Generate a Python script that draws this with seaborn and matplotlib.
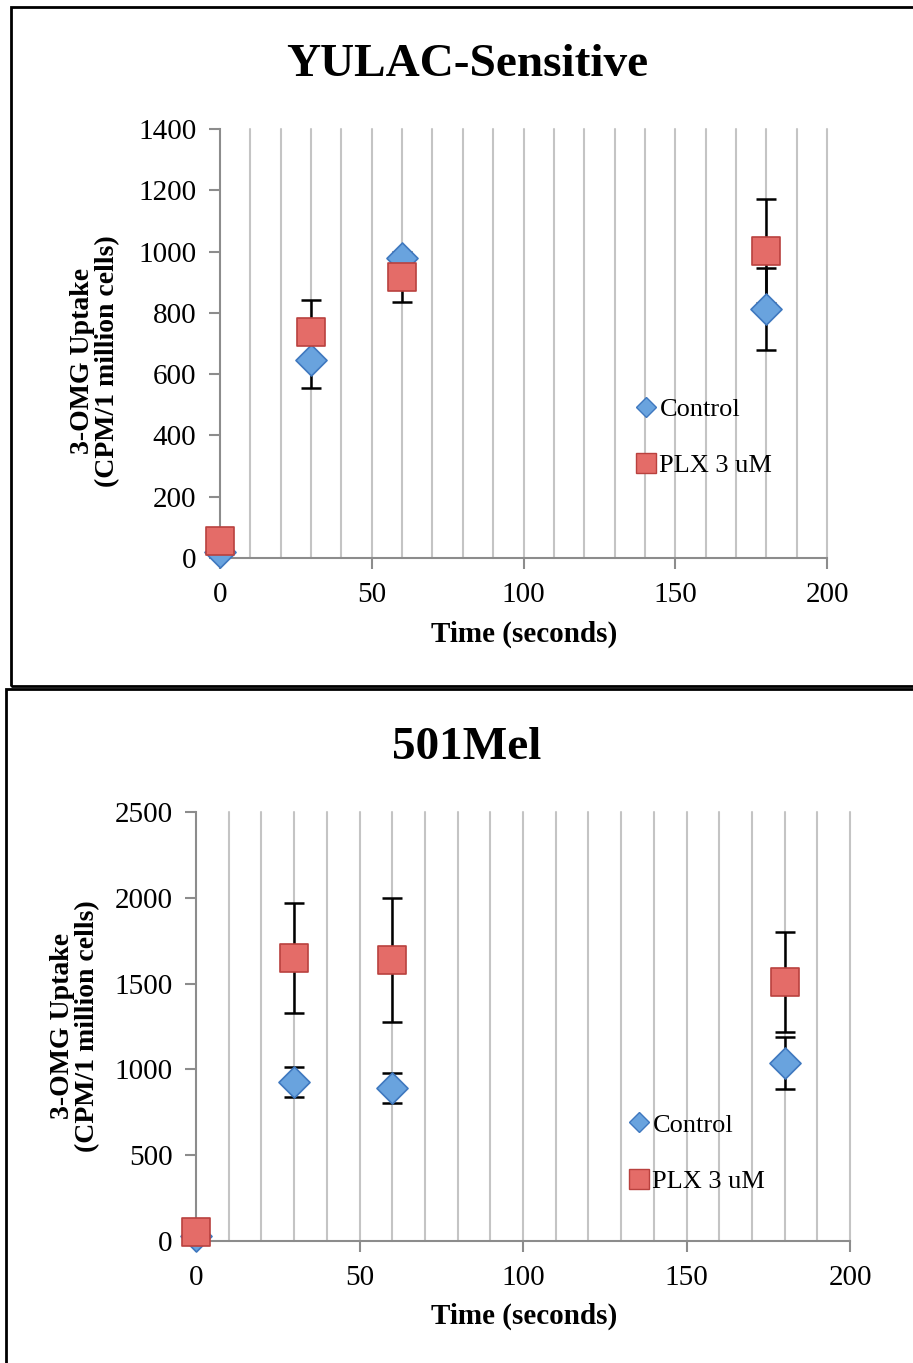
import numpy as np
import pandas as pd
import matplotlib
matplotlib.use("Agg")
import matplotlib.pyplot as plt
from matplotlib.patches import Rectangle
from matplotlib.lines import Line2D
import seaborn as sns

# ---- data ----
time_s = [0, 30, 60, 180]
series_names = ["Control", "PLX 3 uM"]

yulac_control = [20, 646, 979, 813]
yulac_control_err = [0, 90, 0, 135]
yulac_plx = [55, 737, 917, 1002]
yulac_plx_err = [0, 105, 82, 170]

mel_control = [30, 927, 892, 1038]
mel_control_err = [0, 85, 85, 150]
mel_plx = [52, 1650, 1638, 1510]
mel_plx_err = [0, 320, 360, 290]

titles = ["YULAC-Sensitive", "501Mel"]
ylims = [1400, 2500]
ytick_steps = [200, 500]
xticks = [0, 50, 100, 150, 200]

sns.set_style("white")
plt.rcParams['font.family'] = ['Liberation Serif', 'DejaVu Serif']
plt.rcParams['text.color'] = 'black'
plt.rcParams['xtick.labelcolor'] = 'black'
plt.rcParams['ytick.labelcolor'] = 'black'

W, H = 913, 1363
fig = plt.figure(figsize=(W / 100, H / 100), dpi=100)

def fx(px):
    return px / W

def fy(py):
    return 1 - py / H

# panel borders
fig.patches.append(Rectangle((fx(11), fy(686)), fx(920 - 11), fy(7) - fy(686),
                             transform=fig.transFigure, fill=False, lw=2, ec='black'))
fig.patches.append(Rectangle((fx(6), fy(1370)), fx(920 - 6), fy(689) - fy(1370),
                             transform=fig.transFigure, fill=False, lw=2, ec='black'))

blue_face, blue_edge = '#69a3de', '#3f78bf'
red_face, red_edge = '#e46c68', '#b9413e'

panels = [
    dict(box=(220, 827, 129, 558), title_y=65, ylab=(95, 361), xlab_y=634,
         leg=(645, 410, 463), ctrl=yulac_control, ctrl_e=yulac_control_err,
         plx=yulac_plx, plx_e=yulac_plx_err, title_x=467),
    dict(box=(196, 850, 812, 1241), title_y=748, ylab=(75, 1026), xlab_y=1316,
         leg=(638, 1125, 1179), ctrl=mel_control, ctrl_e=mel_control_err,
         plx=mel_plx, plx_e=mel_plx_err, title_x=467),
]

for i, p in enumerate(panels):
    l, r, t, b = p['box']
    ax = fig.add_axes([fx(l), fy(b), fx(r) - fx(l), fy(t) - fy(b)])
    df = pd.DataFrame({
        'time': time_s * 2,
        'value': p['ctrl'] + p['plx'],
        'err': p['ctrl_e'] + p['plx_e'],
        'group': [series_names[0]] * 4 + [series_names[1]] * 4,
    })
    # error bars behind markers
    for g in series_names:
        d = df[(df['group'] == g) & (df['err'] > 0)]
        ax.errorbar(d['time'], d['value'], yerr=d['err'], fmt='none',
                    ecolor='black', elinewidth=1.8, capsize=7, capthick=1.8, zorder=2)
    dc = df[df['group'] == series_names[0]]
    sns.scatterplot(data=dc, x='time', y='value', marker='D', s=250,
                    color=blue_face, edgecolor=blue_edge, linewidth=1.2, ax=ax,
                    zorder=3, legend=False)
    dp = df[df['group'] == series_names[1]]
    sns.scatterplot(data=dp, x='time', y='value', marker='s', s=420,
                    color=red_face, edgecolor=red_edge, linewidth=1.2, ax=ax,
                    zorder=4, legend=False)

    ax.set_xlim(0, 200)
    ax.set_ylim(0, ylims[i])
    ax.set_xticks(xticks)
    ax.set_yticks(np.arange(0, ylims[i] + 1, ytick_steps[i]))
    ax.grid(False)
    for xv in np.arange(10, 201, 10):
        ax.axvline(xv, color='#c4c4c4', lw=1.5, zorder=0)
    for s in ['top', 'right']:
        ax.spines[s].set_visible(False)
    for s in ['left', 'bottom']:
        ax.spines[s].set_color('#8c8c8c')
        ax.spines[s].set_linewidth(1.5)
    ax.tick_params(axis='both', which='major', labelsize=21, color='#8c8c8c',
                   labelcolor='black', width=1.5, length=8, direction='out', pad=9)
    ax.tick_params(axis='x', which='major', bottom=True)
    ax.tick_params(axis='y', which='major', left=True)
    ax.set_xlabel('')
    ax.set_ylabel('')
    for c in ax.collections:
        c.set_clip_on(False)
    for ln in ax.lines:
        ln.set_clip_on(False)

    fig.text(fx(p['title_x']), fy(p['title_y']), titles[i], ha='center', va='center',
             fontsize=34, fontweight='bold')
    fig.text(fx((l + r) / 2 + 1), fy(p['xlab_y']), 'Time (seconds)', ha='center', va='center',
             fontsize=21, fontweight='bold')
    yx, yy = p['ylab']
    fig.text(fx(yx), fy(yy), '3-OMG Uptake\n(CPM/1 million cells)',
             ha='center', va='center', rotation=90, fontsize=20, fontweight='bold',
             linespacing=1.0)

    lx, ly1, ly2 = p['leg']
    h1 = Line2D([], [], marker='D', ls='none', markersize=10, markerfacecolor=blue_face,
                markeredgecolor=blue_edge)
    h2 = Line2D([], [], marker='s', ls='none', markersize=14, markerfacecolor=red_face,
                markeredgecolor=red_edge)
    fig.legend([h1, h2], series_names, loc='center left',
               bbox_to_anchor=(fx(lx - 12), fy((ly1 + ly2) / 2 + 1)), frameon=False,
               fontsize=19, handletextpad=0.0, labelspacing=1.25, handlelength=1.0,
               borderaxespad=0, borderpad=0)

fig.savefig('out.png', dpi=100)
